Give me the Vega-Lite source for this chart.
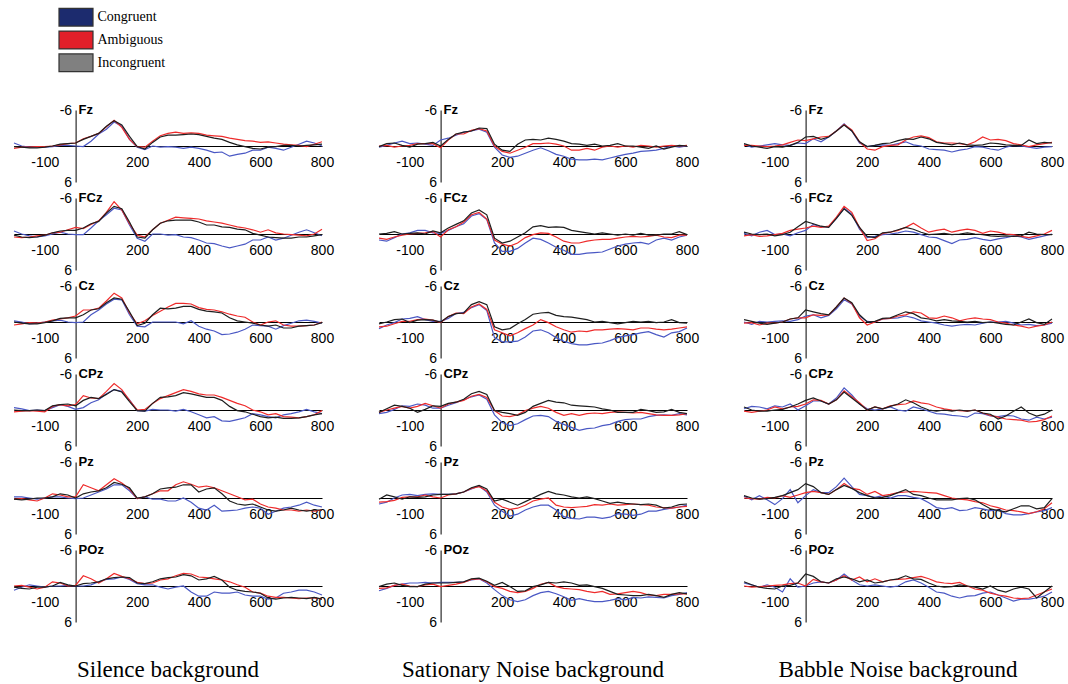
{
"$schema": "https://vega.github.io/schema/vega-lite/v6.json",
"background": "white",
"padding": {"left": 11, "top": 7, "right": 5, "bottom": 0},
"config": {"view": {"stroke": null}, "font": "Liberation Sans"},
"datasets": {"erp": [
{"b":"S","e":"Fz","t":-200,"C":-0.5,"A":0.4,"I":0.1},
{"b":"S","e":"Fz","t":-175,"C":0,"A":0.2,"I":0.2},
{"b":"S","e":"Fz","t":-150,"C":0.2,"A":0.2,"I":0.3},
{"b":"S","e":"Fz","t":-125,"C":0.2,"A":0.1,"I":0.3},
{"b":"S","e":"Fz","t":-100,"C":0.2,"A":0.1,"I":0.2},
{"b":"S","e":"Fz","t":-75,"C":0.1,"A":0,"I":0},
{"b":"S","e":"Fz","t":-50,"C":-0.1,"A":-0.2,"I":-0.3},
{"b":"S","e":"Fz","t":-25,"C":-0.1,"A":-0.4,"I":-0.4},
{"b":"S","e":"Fz","t":0,"C":0,"A":-0.5,"I":-0.5},
{"b":"S","e":"Fz","t":25,"C":0.1,"A":-1.2,"I":-1.1},
{"b":"S","e":"Fz","t":50,"C":-0.8,"A":-1.6,"I":-1.6},
{"b":"S","e":"Fz","t":75,"C":-2,"A":-2.1,"I":-2.1},
{"b":"S","e":"Fz","t":100,"C":-2.8,"A":-3.2,"I":-3.3},
{"b":"S","e":"Fz","t":125,"C":-4,"A":-4.3,"I":-4.2},
{"b":"S","e":"Fz","t":150,"C":-3.3,"A":-3.1,"I":-3.5},
{"b":"S","e":"Fz","t":175,"C":-1.1,"A":-1.1,"I":-1.6},
{"b":"S","e":"Fz","t":200,"C":0.2,"A":0.1,"I":0.1},
{"b":"S","e":"Fz","t":225,"C":0.6,"A":0.2,"I":0.5},
{"b":"S","e":"Fz","t":250,"C":0,"A":-0.8,"I":-0.6},
{"b":"S","e":"Fz","t":275,"C":0.2,"A":-1.7,"I":-1.5},
{"b":"S","e":"Fz","t":300,"C":0.1,"A":-2.1,"I":-1.8},
{"b":"S","e":"Fz","t":325,"C":0.2,"A":-2.3,"I":-1.8},
{"b":"S","e":"Fz","t":350,"C":0.4,"A":-2.1,"I":-1.9},
{"b":"S","e":"Fz","t":375,"C":0.2,"A":-2.2,"I":-2},
{"b":"S","e":"Fz","t":400,"C":0.4,"A":-2.1,"I":-1.9},
{"b":"S","e":"Fz","t":425,"C":0.7,"A":-1.8,"I":-1.6},
{"b":"S","e":"Fz","t":450,"C":1.1,"A":-1.7,"I":-1.3},
{"b":"S","e":"Fz","t":475,"C":1,"A":-1.6,"I":-1.1},
{"b":"S","e":"Fz","t":500,"C":1.7,"A":-1.3,"I":-0.6},
{"b":"S","e":"Fz","t":525,"C":1.4,"A":-1.1,"I":-0.2},
{"b":"S","e":"Fz","t":550,"C":1.2,"A":-0.9,"I":0.1},
{"b":"S","e":"Fz","t":575,"C":0.7,"A":-0.8,"I":0.4},
{"b":"S","e":"Fz","t":600,"C":0.7,"A":-0.6,"I":0.5},
{"b":"S","e":"Fz","t":625,"C":0.2,"A":-0.7,"I":0.2},
{"b":"S","e":"Fz","t":650,"C":0.4,"A":-0.5,"I":0.1},
{"b":"S","e":"Fz","t":675,"C":0.7,"A":-0.3,"I":-0.1},
{"b":"S","e":"Fz","t":700,"C":0.2,"A":-0.2,"I":-0.1},
{"b":"S","e":"Fz","t":725,"C":-0.3,"A":-0.1,"I":0},
{"b":"S","e":"Fz","t":750,"C":-0.8,"A":0.1,"I":-0.1},
{"b":"S","e":"Fz","t":775,"C":-0.5,"A":-0.3,"I":-0.2},
{"b":"S","e":"Fz","t":800,"C":0,"A":-0.7,"I":-0.3},
{"b":"S","e":"FCz","t":-200,"C":-0.5,"A":0.5,"I":0.2},
{"b":"S","e":"FCz","t":-175,"C":0,"A":0.6,"I":0.5},
{"b":"S","e":"FCz","t":-150,"C":0.3,"A":0.5,"I":0.6},
{"b":"S","e":"FCz","t":-125,"C":0.5,"A":0.3,"I":0.5},
{"b":"S","e":"FCz","t":-100,"C":0.3,"A":0.2,"I":0.2},
{"b":"S","e":"FCz","t":-75,"C":0,"A":-0.2,"I":-0.2},
{"b":"S","e":"FCz","t":-50,"C":-0.3,"A":-0.3,"I":-0.5},
{"b":"S","e":"FCz","t":-25,"C":0,"A":-0.7,"I":-0.6},
{"b":"S","e":"FCz","t":0,"C":0.1,"A":-1.1,"I":-0.6},
{"b":"S","e":"FCz","t":25,"C":0.1,"A":-0.9,"I":-1},
{"b":"S","e":"FCz","t":50,"C":-1,"A":-1.6,"I":-1.7},
{"b":"S","e":"FCz","t":75,"C":-2.2,"A":-2.2,"I":-2.1},
{"b":"S","e":"FCz","t":100,"C":-3.2,"A":-3.6,"I":-3.5},
{"b":"S","e":"FCz","t":125,"C":-4.3,"A":-5.4,"I":-4.6},
{"b":"S","e":"FCz","t":150,"C":-4,"A":-4,"I":-4.2},
{"b":"S","e":"FCz","t":175,"C":-1.5,"A":-1.7,"I":-2},
{"b":"S","e":"FCz","t":200,"C":0.7,"A":0.2,"I":0.5},
{"b":"S","e":"FCz","t":225,"C":1.2,"A":0.5,"I":0.7},
{"b":"S","e":"FCz","t":250,"C":0,"A":-0.7,"I":-0.7},
{"b":"S","e":"FCz","t":275,"C":0,"A":-1.8,"I":-1.8},
{"b":"S","e":"FCz","t":300,"C":0.2,"A":-2.3,"I":-2.2},
{"b":"S","e":"FCz","t":325,"C":0.1,"A":-2.8,"I":-2.3},
{"b":"S","e":"FCz","t":350,"C":0.5,"A":-2.7,"I":-2.3},
{"b":"S","e":"FCz","t":375,"C":0.6,"A":-2.6,"I":-2.3},
{"b":"S","e":"FCz","t":400,"C":1,"A":-2.5,"I":-2},
{"b":"S","e":"FCz","t":425,"C":1.5,"A":-2.2,"I":-1.5},
{"b":"S","e":"FCz","t":450,"C":1.6,"A":-2,"I":-1.5},
{"b":"S","e":"FCz","t":475,"C":2,"A":-1.8,"I":-1.2},
{"b":"S","e":"FCz","t":500,"C":2.3,"A":-1.5,"I":-1.1},
{"b":"S","e":"FCz","t":525,"C":2,"A":-1.2,"I":-0.8},
{"b":"S","e":"FCz","t":550,"C":1.7,"A":-1,"I":-0.7},
{"b":"S","e":"FCz","t":575,"C":1,"A":-0.7,"I":-0.1},
{"b":"S","e":"FCz","t":600,"C":1,"A":-0.3,"I":0.2},
{"b":"S","e":"FCz","t":625,"C":0.5,"A":-0.7,"I":0.5},
{"b":"S","e":"FCz","t":650,"C":1,"A":-0.2,"I":0.6},
{"b":"S","e":"FCz","t":675,"C":0.7,"A":0,"I":0.7},
{"b":"S","e":"FCz","t":700,"C":0.2,"A":0.1,"I":0.7},
{"b":"S","e":"FCz","t":725,"C":-0.3,"A":0.2,"I":0.5},
{"b":"S","e":"FCz","t":750,"C":-0.7,"A":0.3,"I":0.5},
{"b":"S","e":"FCz","t":775,"C":-0.2,"A":0,"I":0.3},
{"b":"S","e":"FCz","t":800,"C":0.3,"A":-0.8,"I":0.1},
{"b":"S","e":"Cz","t":-200,"C":-0.2,"A":0.5,"I":0},
{"b":"S","e":"Cz","t":-175,"C":0,"A":0.3,"I":0.2},
{"b":"S","e":"Cz","t":-150,"C":0.3,"A":0.1,"I":0.3},
{"b":"S","e":"Cz","t":-125,"C":0.2,"A":0.2,"I":0.3},
{"b":"S","e":"Cz","t":-100,"C":0,"A":0,"I":0.1},
{"b":"S","e":"Cz","t":-75,"C":-0.2,"A":-0.3,"I":-0.2},
{"b":"S","e":"Cz","t":-50,"C":-0.3,"A":-0.5,"I":-0.6},
{"b":"S","e":"Cz","t":-25,"C":0,"A":-0.7,"I":-0.7},
{"b":"S","e":"Cz","t":0,"C":0.1,"A":-1,"I":-0.7},
{"b":"S","e":"Cz","t":25,"C":0,"A":-2,"I":-1.2},
{"b":"S","e":"Cz","t":50,"C":-1.2,"A":-2,"I":-2},
{"b":"S","e":"Cz","t":75,"C":-2,"A":-2.3,"I":-2.2},
{"b":"S","e":"Cz","t":100,"C":-3,"A":-3.5,"I":-3.2},
{"b":"S","e":"Cz","t":125,"C":-3.8,"A":-4.8,"I":-4},
{"b":"S","e":"Cz","t":150,"C":-3.7,"A":-4,"I":-3.8},
{"b":"S","e":"Cz","t":175,"C":-1.2,"A":-1.5,"I":-1.7},
{"b":"S","e":"Cz","t":200,"C":0.7,"A":0.3,"I":0.6},
{"b":"S","e":"Cz","t":225,"C":0.8,"A":-0.2,"I":0.2},
{"b":"S","e":"Cz","t":250,"C":0,"A":-1.1,"I":-1.2},
{"b":"S","e":"Cz","t":275,"C":0,"A":-1.8,"I":-2.3},
{"b":"S","e":"Cz","t":300,"C":0,"A":-2.5,"I":-2.2},
{"b":"S","e":"Cz","t":325,"C":0,"A":-3.1,"I":-2.3},
{"b":"S","e":"Cz","t":350,"C":0.3,"A":-3.1,"I":-2.6},
{"b":"S","e":"Cz","t":375,"C":-0.2,"A":-3,"I":-2.6},
{"b":"S","e":"Cz","t":400,"C":0.7,"A":-2.4,"I":-2.1},
{"b":"S","e":"Cz","t":425,"C":1.2,"A":-2.1,"I":-1.8},
{"b":"S","e":"Cz","t":450,"C":1.5,"A":-2,"I":-1.7},
{"b":"S","e":"Cz","t":475,"C":2.1,"A":-1.7,"I":-1.5},
{"b":"S","e":"Cz","t":500,"C":2,"A":-1.3,"I":-0.7},
{"b":"S","e":"Cz","t":525,"C":1.7,"A":-1,"I":-0.2},
{"b":"S","e":"Cz","t":550,"C":1.2,"A":-0.8,"I":0},
{"b":"S","e":"Cz","t":575,"C":0.5,"A":0,"I":0.2},
{"b":"S","e":"Cz","t":600,"C":0.6,"A":0.5,"I":0.5},
{"b":"S","e":"Cz","t":625,"C":0.7,"A":0,"I":0.7},
{"b":"S","e":"Cz","t":650,"C":1.2,"A":-0.2,"I":0.5},
{"b":"S","e":"Cz","t":675,"C":0.6,"A":0.5,"I":1},
{"b":"S","e":"Cz","t":700,"C":0.2,"A":0.7,"I":1},
{"b":"S","e":"Cz","t":725,"C":-0.2,"A":0.7,"I":0.7},
{"b":"S","e":"Cz","t":750,"C":-0.3,"A":0.6,"I":0.6},
{"b":"S","e":"Cz","t":775,"C":-0.1,"A":0.5,"I":0.5},
{"b":"S","e":"Cz","t":800,"C":0.2,"A":0,"I":0.1},
{"b":"S","e":"CPz","t":-200,"C":-0.4,"A":0.3,"I":0},
{"b":"S","e":"CPz","t":-175,"C":-0.2,"A":0.2,"I":0.1},
{"b":"S","e":"CPz","t":-150,"C":0.1,"A":0.1,"I":0.1},
{"b":"S","e":"CPz","t":-125,"C":0,"A":0.2,"I":0},
{"b":"S","e":"CPz","t":-100,"C":0.1,"A":0.3,"I":0.1},
{"b":"S","e":"CPz","t":-75,"C":-0.4,"A":-0.6,"I":-0.7},
{"b":"S","e":"CPz","t":-50,"C":-0.9,"A":-0.9,"I":-0.9},
{"b":"S","e":"CPz","t":-25,"C":-0.6,"A":-0.7,"I":-1},
{"b":"S","e":"CPz","t":0,"C":-0.1,"A":-0.9,"I":-0.7},
{"b":"S","e":"CPz","t":25,"C":-0.4,"A":-2.4,"I":-1.6},
{"b":"S","e":"CPz","t":50,"C":-1.2,"A":-2,"I":-2.1},
{"b":"S","e":"CPz","t":75,"C":-1.7,"A":-1.9,"I":-1.9},
{"b":"S","e":"CPz","t":100,"C":-2.7,"A":-3.1,"I":-2.6},
{"b":"S","e":"CPz","t":125,"C":-3.4,"A":-4.4,"I":-3.4},
{"b":"S","e":"CPz","t":150,"C":-3.1,"A":-3.4,"I":-3},
{"b":"S","e":"CPz","t":175,"C":-1.7,"A":-1.6,"I":-1.4},
{"b":"S","e":"CPz","t":200,"C":0.1,"A":0,"I":0.1},
{"b":"S","e":"CPz","t":225,"C":0.2,"A":-0.1,"I":0.2},
{"b":"S","e":"CPz","t":250,"C":-0.1,"A":-1.1,"I":-1.1},
{"b":"S","e":"CPz","t":275,"C":0,"A":-1.9,"I":-2.1},
{"b":"S","e":"CPz","t":300,"C":0,"A":-2.4,"I":-2.2},
{"b":"S","e":"CPz","t":325,"C":0.2,"A":-2.9,"I":-2.4},
{"b":"S","e":"CPz","t":350,"C":-0.1,"A":-3.4,"I":-2.9},
{"b":"S","e":"CPz","t":375,"C":0.3,"A":-3.1,"I":-2.7},
{"b":"S","e":"CPz","t":400,"C":0.8,"A":-2.7,"I":-2.4},
{"b":"S","e":"CPz","t":425,"C":1.3,"A":-2.5,"I":-2.1},
{"b":"S","e":"CPz","t":450,"C":1.1,"A":-2.5,"I":-2.1},
{"b":"S","e":"CPz","t":475,"C":1.8,"A":-2.1,"I":-1.6},
{"b":"S","e":"CPz","t":500,"C":1.9,"A":-1.6,"I":-0.6},
{"b":"S","e":"CPz","t":525,"C":1.6,"A":-1.1,"I":0.1},
{"b":"S","e":"CPz","t":550,"C":1.3,"A":-0.7,"I":0.3},
{"b":"S","e":"CPz","t":575,"C":0.6,"A":0,"I":0.7},
{"b":"S","e":"CPz","t":600,"C":0.8,"A":0.3,"I":1.1},
{"b":"S","e":"CPz","t":625,"C":1.1,"A":0.8,"I":1.3},
{"b":"S","e":"CPz","t":650,"C":1.3,"A":0.6,"I":1.2},
{"b":"S","e":"CPz","t":675,"C":0.8,"A":1.1,"I":1.4},
{"b":"S","e":"CPz","t":700,"C":0.6,"A":1.2,"I":1.4},
{"b":"S","e":"CPz","t":725,"C":0.3,"A":1.3,"I":1.3},
{"b":"S","e":"CPz","t":750,"C":-0.1,"A":1.1,"I":1.1},
{"b":"S","e":"CPz","t":775,"C":0.3,"A":0.8,"I":0.8},
{"b":"S","e":"CPz","t":800,"C":0.6,"A":0.1,"I":0.6},
{"b":"S","e":"Pz","t":-200,"C":-0.2,"A":0.2,"I":0.2},
{"b":"S","e":"Pz","t":-175,"C":-0.2,"A":0.1,"I":0.3},
{"b":"S","e":"Pz","t":-150,"C":0,"A":0.3,"I":0.2},
{"b":"S","e":"Pz","t":-125,"C":0.2,"A":0.5,"I":0},
{"b":"S","e":"Pz","t":-100,"C":0,"A":0,"I":0},
{"b":"S","e":"Pz","t":-75,"C":-0.2,"A":-0.7,"I":-0.2},
{"b":"S","e":"Pz","t":-50,"C":-0.2,"A":-0.5,"I":-0.7},
{"b":"S","e":"Pz","t":-25,"C":0,"A":-0.2,"I":-0.5},
{"b":"S","e":"Pz","t":0,"C":0.1,"A":-0.2,"I":0},
{"b":"S","e":"Pz","t":25,"C":0,"A":-2.2,"I":-0.7},
{"b":"S","e":"Pz","t":50,"C":-0.5,"A":-1.7,"I":-1},
{"b":"S","e":"Pz","t":75,"C":-1,"A":-1.2,"I":-1.2},
{"b":"S","e":"Pz","t":100,"C":-1.5,"A":-2.2,"I":-1.7},
{"b":"S","e":"Pz","t":125,"C":-2.2,"A":-3.2,"I":-2.6},
{"b":"S","e":"Pz","t":150,"C":-2.2,"A":-2.5,"I":-2.3},
{"b":"S","e":"Pz","t":175,"C":-1.2,"A":-1.5,"I":-1.7},
{"b":"S","e":"Pz","t":200,"C":0.1,"A":0.1,"I":0},
{"b":"S","e":"Pz","t":225,"C":-0.2,"A":-0.2,"I":-0.2},
{"b":"S","e":"Pz","t":250,"C":0.2,"A":-0.7,"I":-0.7},
{"b":"S","e":"Pz","t":275,"C":0.2,"A":-1.2,"I":-1.5},
{"b":"S","e":"Pz","t":300,"C":0.5,"A":-1.2,"I":-1.7},
{"b":"S","e":"Pz","t":325,"C":0.5,"A":-2.2,"I":-1.8},
{"b":"S","e":"Pz","t":350,"C":0,"A":-2.7,"I":-2.2},
{"b":"S","e":"Pz","t":375,"C":0.7,"A":-2.3,"I":-2.2},
{"b":"S","e":"Pz","t":400,"C":1.7,"A":-1.8,"I":-1},
{"b":"S","e":"Pz","t":425,"C":2,"A":-2,"I":-1.5},
{"b":"S","e":"Pz","t":450,"C":1.2,"A":-1.7,"I":-1.7},
{"b":"S","e":"Pz","t":475,"C":2.2,"A":-1.2,"I":-0.7},
{"b":"S","e":"Pz","t":500,"C":2.1,"A":-0.7,"I":0.5},
{"b":"S","e":"Pz","t":525,"C":2,"A":-0.2,"I":1},
{"b":"S","e":"Pz","t":550,"C":1.7,"A":0.3,"I":1.2},
{"b":"S","e":"Pz","t":575,"C":1.5,"A":0.2,"I":1},
{"b":"S","e":"Pz","t":600,"C":1.7,"A":1,"I":1.5},
{"b":"S","e":"Pz","t":625,"C":2.7,"A":1.5,"I":2},
{"b":"S","e":"Pz","t":650,"C":2.2,"A":1.7,"I":2.2},
{"b":"S","e":"Pz","t":675,"C":1.7,"A":2,"I":2},
{"b":"S","e":"Pz","t":700,"C":1.5,"A":2,"I":1.7},
{"b":"S","e":"Pz","t":725,"C":1.2,"A":2.2,"I":2},
{"b":"S","e":"Pz","t":750,"C":0.7,"A":2,"I":2.2},
{"b":"S","e":"Pz","t":775,"C":1.2,"A":2.2,"I":2},
{"b":"S","e":"Pz","t":800,"C":1.5,"A":2,"I":2},
{"b":"S","e":"POz","t":-200,"C":0.7,"A":0,"I":0.2},
{"b":"S","e":"POz","t":-175,"C":0.2,"A":-0.1,"I":0.4},
{"b":"S","e":"POz","t":-150,"C":-0.2,"A":0.2,"I":0.5},
{"b":"S","e":"POz","t":-125,"C":0,"A":0.5,"I":0.2},
{"b":"S","e":"POz","t":-100,"C":0.2,"A":0.2,"I":0.2},
{"b":"S","e":"POz","t":-75,"C":0,"A":-0.7,"I":0},
{"b":"S","e":"POz","t":-50,"C":0,"A":-0.5,"I":-0.6},
{"b":"S","e":"POz","t":-25,"C":-0.1,"A":0,"I":-0.2},
{"b":"S","e":"POz","t":0,"C":0,"A":-0.1,"I":0},
{"b":"S","e":"POz","t":25,"C":0,"A":-1.7,"I":-0.4},
{"b":"S","e":"POz","t":50,"C":-0.2,"A":-1.2,"I":-0.5},
{"b":"S","e":"POz","t":75,"C":-0.7,"A":-0.5,"I":-0.7},
{"b":"S","e":"POz","t":100,"C":-1.1,"A":-1.2,"I":-1.2},
{"b":"S","e":"POz","t":125,"C":-1.2,"A":-2.1,"I":-1.4},
{"b":"S","e":"POz","t":150,"C":-1.5,"A":-1.6,"I":-1.5},
{"b":"S","e":"POz","t":175,"C":-1.1,"A":-1.2,"I":-1.4},
{"b":"S","e":"POz","t":200,"C":-0.4,"A":-0.6,"I":-0.5},
{"b":"S","e":"POz","t":225,"C":-0.2,"A":-0.4,"I":-0.4},
{"b":"S","e":"POz","t":250,"C":-0.2,"A":-0.5,"I":-0.7},
{"b":"S","e":"POz","t":275,"C":0.2,"A":-1,"I":-1.2},
{"b":"S","e":"POz","t":300,"C":0.5,"A":-1.2,"I":-1.4},
{"b":"S","e":"POz","t":325,"C":0.2,"A":-1.7,"I":-1.5},
{"b":"S","e":"POz","t":350,"C":0,"A":-2.1,"I":-1.9},
{"b":"S","e":"POz","t":375,"C":1,"A":-2,"I":-1.7},
{"b":"S","e":"POz","t":400,"C":1.7,"A":-1.5,"I":-1},
{"b":"S","e":"POz","t":425,"C":1.7,"A":-1.4,"I":-1.2},
{"b":"S","e":"POz","t":450,"C":1,"A":-1.2,"I":-1.6},
{"b":"S","e":"POz","t":475,"C":1.2,"A":-1,"I":-1},
{"b":"S","e":"POz","t":500,"C":1.2,"A":-0.7,"I":0.2},
{"b":"S","e":"POz","t":525,"C":1,"A":-0.2,"I":0.7},
{"b":"S","e":"POz","t":550,"C":1.5,"A":0.2,"I":0.9},
{"b":"S","e":"POz","t":575,"C":1.7,"A":1,"I":1},
{"b":"S","e":"POz","t":600,"C":1.7,"A":1.2,"I":1.2},
{"b":"S","e":"POz","t":625,"C":2.2,"A":1.7,"I":2},
{"b":"S","e":"POz","t":650,"C":2,"A":1.9,"I":2.2},
{"b":"S","e":"POz","t":675,"C":1.2,"A":1.9,"I":2},
{"b":"S","e":"POz","t":700,"C":1,"A":2,"I":1.9},
{"b":"S","e":"POz","t":725,"C":0.7,"A":2.1,"I":2},
{"b":"S","e":"POz","t":750,"C":0.7,"A":2,"I":2.1},
{"b":"S","e":"POz","t":775,"C":1,"A":2,"I":1.9},
{"b":"S","e":"POz","t":800,"C":1.5,"A":2.2,"I":2.2},
{"b":"N","e":"Fz","t":-200,"C":0.2,"A":0,"I":0.1},
{"b":"N","e":"Fz","t":-175,"C":-0.1,"A":-0.1,"I":-0.4},
{"b":"N","e":"Fz","t":-150,"C":-0.5,"A":0.2,"I":-0.5},
{"b":"N","e":"Fz","t":-125,"C":-0.8,"A":0,"I":-0.1},
{"b":"N","e":"Fz","t":-100,"C":-0.4,"A":-0.1,"I":0.2},
{"b":"N","e":"Fz","t":-75,"C":-0.5,"A":-0.4,"I":-0.3},
{"b":"N","e":"Fz","t":-50,"C":-0.3,"A":-0.4,"I":-0.4},
{"b":"N","e":"Fz","t":-25,"C":-0.1,"A":-0.4,"I":-0.6},
{"b":"N","e":"Fz","t":0,"C":-1,"A":0.3,"I":0},
{"b":"N","e":"Fz","t":25,"C":-1.3,"A":-1,"I":-1.1},
{"b":"N","e":"Fz","t":50,"C":-1.8,"A":-2,"I":-2},
{"b":"N","e":"Fz","t":75,"C":-2.3,"A":-2,"I":-2.3},
{"b":"N","e":"Fz","t":100,"C":-2.5,"A":-2.6,"I":-2.5},
{"b":"N","e":"Fz","t":125,"C":-2.8,"A":-2.9,"I":-3},
{"b":"N","e":"Fz","t":150,"C":-2.3,"A":-2.5,"I":-2.9},
{"b":"N","e":"Fz","t":175,"C":0.2,"A":0,"I":-0.3},
{"b":"N","e":"Fz","t":200,"C":1.5,"A":0.9,"I":0.7},
{"b":"N","e":"Fz","t":225,"C":1.9,"A":1.2,"I":0.9},
{"b":"N","e":"Fz","t":250,"C":1.7,"A":0.7,"I":-0.3},
{"b":"N","e":"Fz","t":275,"C":1.2,"A":0.2,"I":-1},
{"b":"N","e":"Fz","t":300,"C":0.7,"A":-0.4,"I":-1.1},
{"b":"N","e":"Fz","t":325,"C":0.3,"A":-0.4,"I":-1},
{"b":"N","e":"Fz","t":350,"C":0.8,"A":-0.5,"I":-1.3},
{"b":"N","e":"Fz","t":375,"C":1.4,"A":-0.3,"I":-1.1},
{"b":"N","e":"Fz","t":400,"C":1.7,"A":0,"I":-0.8},
{"b":"N","e":"Fz","t":425,"C":2.2,"A":0.7,"I":-0.4},
{"b":"N","e":"Fz","t":450,"C":2.3,"A":0.7,"I":-0.3},
{"b":"N","e":"Fz","t":475,"C":2.3,"A":0.4,"I":-0.1},
{"b":"N","e":"Fz","t":500,"C":2.2,"A":0.7,"I":-0.3},
{"b":"N","e":"Fz","t":525,"C":2.3,"A":0.2,"I":0},
{"b":"N","e":"Fz","t":550,"C":2,"A":0,"I":-0.1},
{"b":"N","e":"Fz","t":575,"C":1.7,"A":0.2,"I":-0.4},
{"b":"N","e":"Fz","t":600,"C":1.4,"A":0,"I":0},
{"b":"N","e":"Fz","t":625,"C":1.2,"A":0.2,"I":0},
{"b":"N","e":"Fz","t":650,"C":0.9,"A":-0.1,"I":0.2},
{"b":"N","e":"Fz","t":675,"C":0.8,"A":0,"I":0.4},
{"b":"N","e":"Fz","t":700,"C":0.7,"A":0.2,"I":0},
{"b":"N","e":"Fz","t":725,"C":0.4,"A":0,"I":0.5},
{"b":"N","e":"Fz","t":750,"C":0,"A":-0.1,"I":0.2},
{"b":"N","e":"Fz","t":775,"C":0.2,"A":0,"I":-0.1},
{"b":"N","e":"Fz","t":800,"C":0,"A":-0.1,"I":0},
{"b":"N","e":"FCz","t":-200,"C":1,"A":0.7,"I":0},
{"b":"N","e":"FCz","t":-175,"C":1.2,"A":0.9,"I":-0.1},
{"b":"N","e":"FCz","t":-150,"C":0.6,"A":0.5,"I":-0.4},
{"b":"N","e":"FCz","t":-125,"C":0,"A":0.2,"I":0},
{"b":"N","e":"FCz","t":-100,"C":-0.2,"A":0,"I":-0.1},
{"b":"N","e":"FCz","t":-75,"C":-0.6,"A":-0.1,"I":-0.2},
{"b":"N","e":"FCz","t":-50,"C":-0.6,"A":-0.2,"I":0},
{"b":"N","e":"FCz","t":-25,"C":-0.2,"A":-0.4,"I":-0.5},
{"b":"N","e":"FCz","t":0,"C":-0.1,"A":0.5,"I":-0.2},
{"b":"N","e":"FCz","t":25,"C":-0.6,"A":-0.7,"I":-1},
{"b":"N","e":"FCz","t":50,"C":-1.2,"A":-1.2,"I":-1.6},
{"b":"N","e":"FCz","t":75,"C":-1.7,"A":-2,"I":-2.2},
{"b":"N","e":"FCz","t":100,"C":-3,"A":-3.2,"I":-3.5},
{"b":"N","e":"FCz","t":125,"C":-3.4,"A":-3.6,"I":-4},
{"b":"N","e":"FCz","t":150,"C":-2.4,"A":-2.5,"I":-3.2},
{"b":"N","e":"FCz","t":175,"C":1.5,"A":1,"I":0.7},
{"b":"N","e":"FCz","t":200,"C":2.9,"A":1.7,"I":1.5},
{"b":"N","e":"FCz","t":225,"C":2.9,"A":2,"I":1.2},
{"b":"N","e":"FCz","t":250,"C":2.4,"A":1.5,"I":0.5},
{"b":"N","e":"FCz","t":275,"C":1.5,"A":0.6,"I":-0.2},
{"b":"N","e":"FCz","t":300,"C":0.7,"A":0.1,"I":-1.2},
{"b":"N","e":"FCz","t":325,"C":0.9,"A":-0.2,"I":-1.4},
{"b":"N","e":"FCz","t":350,"C":1.5,"A":-0.1,"I":-1.1},
{"b":"N","e":"FCz","t":375,"C":2.2,"A":0.5,"I":-1.2},
{"b":"N","e":"FCz","t":400,"C":2.7,"A":1.2,"I":-1.1},
{"b":"N","e":"FCz","t":425,"C":3.4,"A":1.5,"I":-0.6},
{"b":"N","e":"FCz","t":450,"C":3.4,"A":1.5,"I":-0.4},
{"b":"N","e":"FCz","t":475,"C":3.2,"A":1.2,"I":-0.2},
{"b":"N","e":"FCz","t":500,"C":3.1,"A":1,"I":0},
{"b":"N","e":"FCz","t":525,"C":3,"A":0.9,"I":-0.2},
{"b":"N","e":"FCz","t":550,"C":2.5,"A":0.9,"I":0},
{"b":"N","e":"FCz","t":575,"C":2,"A":0.7,"I":0.2},
{"b":"N","e":"FCz","t":600,"C":1.7,"A":0.5,"I":0},
{"b":"N","e":"FCz","t":625,"C":1.5,"A":0.4,"I":0.2},
{"b":"N","e":"FCz","t":650,"C":1.4,"A":0.5,"I":-0.1},
{"b":"N","e":"FCz","t":675,"C":1.7,"A":0.4,"I":0.2},
{"b":"N","e":"FCz","t":700,"C":1,"A":0.2,"I":0.2},
{"b":"N","e":"FCz","t":725,"C":0.7,"A":0.5,"I":0},
{"b":"N","e":"FCz","t":750,"C":1,"A":0.6,"I":0},
{"b":"N","e":"FCz","t":775,"C":0.5,"A":0.2,"I":-0.4},
{"b":"N","e":"FCz","t":800,"C":0.2,"A":0.2,"I":0.1},
{"b":"N","e":"Cz","t":-200,"C":1.1,"A":0.8,"I":0.3},
{"b":"N","e":"Cz","t":-175,"C":0.5,"A":0.7,"I":0},
{"b":"N","e":"Cz","t":-150,"C":0.1,"A":0.3,"I":-0.4},
{"b":"N","e":"Cz","t":-125,"C":-0.5,"A":-0.1,"I":-0.5},
{"b":"N","e":"Cz","t":-100,"C":-0.6,"A":-0.1,"I":0.1},
{"b":"N","e":"Cz","t":-75,"C":-0.9,"A":-0.4,"I":-0.3},
{"b":"N","e":"Cz","t":-50,"C":-0.4,"A":-0.5,"I":-0.4},
{"b":"N","e":"Cz","t":-25,"C":-0.1,"A":-0.3,"I":-0.3},
{"b":"N","e":"Cz","t":0,"C":-0.1,"A":0.1,"I":0},
{"b":"N","e":"Cz","t":25,"C":-0.6,"A":-0.9,"I":-0.9},
{"b":"N","e":"Cz","t":50,"C":-1.4,"A":-1.5,"I":-1.4},
{"b":"N","e":"Cz","t":75,"C":-1.6,"A":-1.4,"I":-1.5},
{"b":"N","e":"Cz","t":100,"C":-2.4,"A":-2.5,"I":-2.9},
{"b":"N","e":"Cz","t":125,"C":-2.9,"A":-3,"I":-3.4},
{"b":"N","e":"Cz","t":150,"C":-1.9,"A":-2.1,"I":-2.9},
{"b":"N","e":"Cz","t":175,"C":2.6,"A":1.3,"I":0.8},
{"b":"N","e":"Cz","t":200,"C":3.3,"A":1.8,"I":1.3},
{"b":"N","e":"Cz","t":225,"C":3.3,"A":2.3,"I":1.1},
{"b":"N","e":"Cz","t":250,"C":3.2,"A":1.8,"I":0.3},
{"b":"N","e":"Cz","t":275,"C":2.5,"A":1.1,"I":-0.4},
{"b":"N","e":"Cz","t":300,"C":1.5,"A":0.5,"I":-1.3},
{"b":"N","e":"Cz","t":325,"C":1.3,"A":-0.4,"I":-1.5},
{"b":"N","e":"Cz","t":350,"C":1.8,"A":0.1,"I":-1.6},
{"b":"N","e":"Cz","t":375,"C":2.6,"A":0.8,"I":-1.1},
{"b":"N","e":"Cz","t":400,"C":3.2,"A":1.3,"I":-0.9},
{"b":"N","e":"Cz","t":425,"C":3.6,"A":1.7,"I":-0.8},
{"b":"N","e":"Cz","t":450,"C":3.8,"A":1.5,"I":-0.6},
{"b":"N","e":"Cz","t":475,"C":3.8,"A":1.6,"I":-0.4},
{"b":"N","e":"Cz","t":500,"C":3.6,"A":1.3,"I":0},
{"b":"N","e":"Cz","t":525,"C":3.5,"A":1.3,"I":-0.1},
{"b":"N","e":"Cz","t":550,"C":3.1,"A":1.2,"I":0.1},
{"b":"N","e":"Cz","t":575,"C":2.6,"A":1.1,"I":0.3},
{"b":"N","e":"Cz","t":600,"C":2.3,"A":1.2,"I":0.1},
{"b":"N","e":"Cz","t":625,"C":2.1,"A":1.3,"I":-0.1},
{"b":"N","e":"Cz","t":650,"C":1.8,"A":1,"I":0},
{"b":"N","e":"Cz","t":675,"C":1.6,"A":1,"I":-0.1},
{"b":"N","e":"Cz","t":700,"C":2.1,"A":1.2,"I":0.1},
{"b":"N","e":"Cz","t":725,"C":2.5,"A":1.3,"I":0},
{"b":"N","e":"Cz","t":750,"C":1.8,"A":1.2,"I":-0.4},
{"b":"N","e":"Cz","t":775,"C":1.6,"A":1,"I":0.1},
{"b":"N","e":"Cz","t":800,"C":1,"A":0.8,"I":0.2},
{"b":"N","e":"CPz","t":-200,"C":0.6,"A":0.4,"I":0.4},
{"b":"N","e":"CPz","t":-175,"C":0.4,"A":0,"I":-0.2},
{"b":"N","e":"CPz","t":-150,"C":-0.1,"A":-0.3,"I":-0.8},
{"b":"N","e":"CPz","t":-125,"C":-0.7,"A":-0.6,"I":-0.6},
{"b":"N","e":"CPz","t":-100,"C":-0.6,"A":-0.3,"I":-0.3},
{"b":"N","e":"CPz","t":-75,"C":-1,"A":-0.6,"I":0.4},
{"b":"N","e":"CPz","t":-50,"C":-0.8,"A":-1.1,"I":-0.1},
{"b":"N","e":"CPz","t":-25,"C":-0.3,"A":-0.7,"I":-0.7},
{"b":"N","e":"CPz","t":0,"C":-0.3,"A":-0.3,"I":-0.6},
{"b":"N","e":"CPz","t":25,"C":-0.8,"A":-1,"I":-1.1},
{"b":"N","e":"CPz","t":50,"C":-1.2,"A":-1.3,"I":-1.3},
{"b":"N","e":"CPz","t":75,"C":-1.7,"A":-1.6,"I":-1.8},
{"b":"N","e":"CPz","t":100,"C":-2.2,"A":-2.3,"I":-2.7},
{"b":"N","e":"CPz","t":125,"C":-2.5,"A":-2.6,"I":-3.1},
{"b":"N","e":"CPz","t":150,"C":-1.8,"A":-2.1,"I":-2.6},
{"b":"N","e":"CPz","t":175,"C":0.8,"A":0.1,"I":0.1},
{"b":"N","e":"CPz","t":200,"C":2.1,"A":1,"I":0.4},
{"b":"N","e":"CPz","t":225,"C":2.6,"A":1.1,"I":0.6},
{"b":"N","e":"CPz","t":250,"C":2.3,"A":0.8,"I":0.9},
{"b":"N","e":"CPz","t":275,"C":1.6,"A":0.1,"I":0.4},
{"b":"N","e":"CPz","t":300,"C":1,"A":-0.3,"I":-0.6},
{"b":"N","e":"CPz","t":325,"C":0.9,"A":-0.6,"I":-1.1},
{"b":"N","e":"CPz","t":350,"C":1.1,"A":-0.3,"I":-1.6},
{"b":"N","e":"CPz","t":375,"C":1.9,"A":0.4,"I":-1.3},
{"b":"N","e":"CPz","t":400,"C":2.4,"A":0.9,"I":-1.2},
{"b":"N","e":"CPz","t":425,"C":2.9,"A":0.6,"I":-0.8},
{"b":"N","e":"CPz","t":450,"C":3.4,"A":0.9,"I":-0.7},
{"b":"N","e":"CPz","t":475,"C":3.1,"A":0.6,"I":-0.6},
{"b":"N","e":"CPz","t":500,"C":3,"A":0.5,"I":-0.5},
{"b":"N","e":"CPz","t":525,"C":2.6,"A":0.6,"I":-0.2},
{"b":"N","e":"CPz","t":550,"C":2.4,"A":0.4,"I":0},
{"b":"N","e":"CPz","t":575,"C":1.9,"A":0.3,"I":0.4},
{"b":"N","e":"CPz","t":600,"C":1.6,"A":0.4,"I":0.4},
{"b":"N","e":"CPz","t":625,"C":1.5,"A":0.5,"I":0.4},
{"b":"N","e":"CPz","t":650,"C":1.5,"A":0.4,"I":-0.1},
{"b":"N","e":"CPz","t":675,"C":1.1,"A":0.6,"I":0.1},
{"b":"N","e":"CPz","t":700,"C":0.9,"A":0.8,"I":0.4},
{"b":"N","e":"CPz","t":725,"C":0.8,"A":0.9,"I":0.3},
{"b":"N","e":"CPz","t":750,"C":0.9,"A":0.9,"I":-0.1},
{"b":"N","e":"CPz","t":775,"C":0.6,"A":0.8,"I":0.4},
{"b":"N","e":"CPz","t":800,"C":0.8,"A":0.6,"I":0.6},
{"b":"N","e":"Pz","t":-200,"C":1,"A":0.7,"I":0.2},
{"b":"N","e":"Pz","t":-175,"C":0.7,"A":0.6,"I":-0.5},
{"b":"N","e":"Pz","t":-150,"C":0,"A":0.4,"I":-0.2},
{"b":"N","e":"Pz","t":-125,"C":-0.5,"A":-0.1,"I":0.2},
{"b":"N","e":"Pz","t":-100,"C":-0.6,"A":-0.2,"I":-0.2},
{"b":"N","e":"Pz","t":-75,"C":-0.4,"A":-0.2,"I":-0.1},
{"b":"N","e":"Pz","t":-50,"C":-0.6,"A":-0.5,"I":-0.2},
{"b":"N","e":"Pz","t":-25,"C":-0.7,"A":-0.2,"I":-0.5},
{"b":"N","e":"Pz","t":0,"C":-0.6,"A":0,"I":-0.6},
{"b":"N","e":"Pz","t":25,"C":-0.6,"A":-0.5,"I":-0.6},
{"b":"N","e":"Pz","t":50,"C":-0.7,"A":-0.7,"I":-0.7},
{"b":"N","e":"Pz","t":75,"C":-1,"A":-1,"I":-1},
{"b":"N","e":"Pz","t":100,"C":-1.5,"A":-1.6,"I":-1.7},
{"b":"N","e":"Pz","t":125,"C":-2,"A":-1.9,"I":-2.1},
{"b":"N","e":"Pz","t":150,"C":-1,"A":-1.2,"I":-1.5},
{"b":"N","e":"Pz","t":175,"C":1.2,"A":0.7,"I":0.5},
{"b":"N","e":"Pz","t":200,"C":2.2,"A":1.5,"I":0.2},
{"b":"N","e":"Pz","t":225,"C":3,"A":1.9,"I":0.7},
{"b":"N","e":"Pz","t":250,"C":2.7,"A":1.7,"I":1.2},
{"b":"N","e":"Pz","t":275,"C":2,"A":1.2,"I":0.6},
{"b":"N","e":"Pz","t":300,"C":1.5,"A":0.5,"I":0},
{"b":"N","e":"Pz","t":325,"C":1.2,"A":0.2,"I":-0.6},
{"b":"N","e":"Pz","t":350,"C":1.2,"A":0,"I":-1.1},
{"b":"N","e":"Pz","t":375,"C":2,"A":1.2,"I":-0.7},
{"b":"N","e":"Pz","t":400,"C":3.1,"A":1.5,"I":-0.5},
{"b":"N","e":"Pz","t":425,"C":3.4,"A":1.6,"I":-0.2},
{"b":"N","e":"Pz","t":450,"C":3.5,"A":1.5,"I":0},
{"b":"N","e":"Pz","t":475,"C":3.2,"A":1.4,"I":-0.2},
{"b":"N","e":"Pz","t":500,"C":3.2,"A":1.1,"I":0.1},
{"b":"N","e":"Pz","t":525,"C":3.4,"A":1.2,"I":0.5},
{"b":"N","e":"Pz","t":550,"C":3.2,"A":1,"I":0.9},
{"b":"N","e":"Pz","t":575,"C":2.6,"A":1.2,"I":0.7},
{"b":"N","e":"Pz","t":600,"C":2.7,"A":1.1,"I":0.9},
{"b":"N","e":"Pz","t":625,"C":2.9,"A":1,"I":1},
{"b":"N","e":"Pz","t":650,"C":2.7,"A":1.1,"I":1.1},
{"b":"N","e":"Pz","t":675,"C":2.2,"A":1.2,"I":1},
{"b":"N","e":"Pz","t":700,"C":2.2,"A":1.5,"I":1.2},
{"b":"N","e":"Pz","t":725,"C":1.9,"A":1.6,"I":1.7},
{"b":"N","e":"Pz","t":750,"C":1.7,"A":1.7,"I":1.5},
{"b":"N","e":"Pz","t":775,"C":1.5,"A":1.5,"I":1.1},
{"b":"N","e":"Pz","t":800,"C":1.2,"A":1.4,"I":1},
{"b":"N","e":"POz","t":-200,"C":0.8,"A":0.4,"I":0.1},
{"b":"N","e":"POz","t":-175,"C":0.4,"A":0.3,"I":-0.3},
{"b":"N","e":"POz","t":-150,"C":-0.1,"A":-0.1,"I":-0.5},
{"b":"N","e":"POz","t":-125,"C":-0.3,"A":-0.3,"I":-0.1},
{"b":"N","e":"POz","t":-100,"C":-0.5,"A":0,"I":0.1},
{"b":"N","e":"POz","t":-75,"C":-0.5,"A":0.1,"I":0.1},
{"b":"N","e":"POz","t":-50,"C":-0.6,"A":-0.2,"I":-0.3},
{"b":"N","e":"POz","t":-25,"C":-0.5,"A":-0.3,"I":-0.5},
{"b":"N","e":"POz","t":0,"C":-0.6,"A":0.1,"I":-0.5},
{"b":"N","e":"POz","t":25,"C":-0.6,"A":-0.1,"I":-0.5},
{"b":"N","e":"POz","t":50,"C":-0.6,"A":-0.3,"I":-0.6},
{"b":"N","e":"POz","t":75,"C":-0.7,"A":-0.6,"I":-0.7},
{"b":"N","e":"POz","t":100,"C":-1,"A":-1.1,"I":-1.2},
{"b":"N","e":"POz","t":125,"C":-1.2,"A":-1.2,"I":-1.3},
{"b":"N","e":"POz","t":150,"C":-0.5,"A":-0.7,"I":-0.8},
{"b":"N","e":"POz","t":175,"C":0.6,"A":0.1,"I":-0.1},
{"b":"N","e":"POz","t":200,"C":1.6,"A":0.4,"I":-0.6},
{"b":"N","e":"POz","t":225,"C":2.3,"A":0.9,"I":0.1},
{"b":"N","e":"POz","t":250,"C":2.6,"A":1.1,"I":0.9},
{"b":"N","e":"POz","t":275,"C":2.3,"A":0.9,"I":0.8},
{"b":"N","e":"POz","t":300,"C":1.6,"A":0.4,"I":0.1},
{"b":"N","e":"POz","t":325,"C":1.1,"A":-0.3,"I":-0.2},
{"b":"N","e":"POz","t":350,"C":0.9,"A":-0.6,"I":-0.6},
{"b":"N","e":"POz","t":375,"C":1.3,"A":0.1,"I":-0.5},
{"b":"N","e":"POz","t":400,"C":1.8,"A":0.4,"I":-0.7},
{"b":"N","e":"POz","t":425,"C":2.4,"A":0.5,"I":-0.5},
{"b":"N","e":"POz","t":450,"C":2.1,"A":0.6,"I":-0.1},
{"b":"N","e":"POz","t":475,"C":2.4,"A":0.9,"I":-0.2},
{"b":"N","e":"POz","t":500,"C":2.6,"A":1.1,"I":0.1},
{"b":"N","e":"POz","t":525,"C":2.6,"A":0.9,"I":0.4},
{"b":"N","e":"POz","t":550,"C":2.4,"A":1.4,"I":0.9},
{"b":"N","e":"POz","t":575,"C":2.1,"A":1.3,"I":1.4},
{"b":"N","e":"POz","t":600,"C":2.3,"A":1.1,"I":1.5},
{"b":"N","e":"POz","t":625,"C":1.9,"A":0.9,"I":1.6},
{"b":"N","e":"POz","t":650,"C":2,"A":1.1,"I":1.6},
{"b":"N","e":"POz","t":675,"C":1.8,"A":1.5,"I":1.4},
{"b":"N","e":"POz","t":700,"C":1.9,"A":1.6,"I":1.6},
{"b":"N","e":"POz","t":725,"C":2,"A":1.4,"I":1.9},
{"b":"N","e":"POz","t":750,"C":1.6,"A":1.4,"I":1.4},
{"b":"N","e":"POz","t":775,"C":1.4,"A":1.3,"I":1.1},
{"b":"N","e":"POz","t":800,"C":1.1,"A":1.3,"I":1.3},
{"b":"B","e":"Fz","t":-200,"C":-0.2,"A":-0.1,"I":-0.4},
{"b":"B","e":"Fz","t":-175,"C":0.2,"A":-0.1,"I":0},
{"b":"B","e":"Fz","t":-150,"C":0,"A":0,"I":0.2},
{"b":"B","e":"Fz","t":-125,"C":-0.2,"A":0.1,"I":0.4},
{"b":"B","e":"Fz","t":-100,"C":-0.4,"A":0,"I":0.1},
{"b":"B","e":"Fz","t":-75,"C":-0.2,"A":-0.2,"I":0.2},
{"b":"B","e":"Fz","t":-50,"C":-0.1,"A":-0.6,"I":-0.1},
{"b":"B","e":"Fz","t":-25,"C":-0.5,"A":-1,"I":-0.6},
{"b":"B","e":"Fz","t":0,"C":-0.4,"A":-0.9,"I":-1.5},
{"b":"B","e":"Fz","t":25,"C":-1.2,"A":-1.2,"I":-1.6},
{"b":"B","e":"Fz","t":50,"C":-0.7,"A":-1.5,"I":-1.1},
{"b":"B","e":"Fz","t":75,"C":-1.5,"A":-1.6,"I":-1.5},
{"b":"B","e":"Fz","t":100,"C":-2.5,"A":-2.5,"I":-2.5},
{"b":"B","e":"Fz","t":125,"C":-3.7,"A":-3.6,"I":-3.5},
{"b":"B","e":"Fz","t":150,"C":-2.5,"A":-2.7,"I":-2.5},
{"b":"B","e":"Fz","t":175,"C":-0.5,"A":-0.7,"I":-0.7},
{"b":"B","e":"Fz","t":200,"C":0.1,"A":0.5,"I":0.1},
{"b":"B","e":"Fz","t":225,"C":-0.1,"A":0.7,"I":-0.1},
{"b":"B","e":"Fz","t":250,"C":-0.2,"A":0.1,"I":-0.4},
{"b":"B","e":"Fz","t":275,"C":-0.1,"A":-0.1,"I":-0.5},
{"b":"B","e":"Fz","t":300,"C":-0.4,"A":-0.2,"I":-0.9},
{"b":"B","e":"Fz","t":325,"C":-0.7,"A":-1,"I":-1.2},
{"b":"B","e":"Fz","t":350,"C":-0.2,"A":-1.5,"I":-1.1},
{"b":"B","e":"Fz","t":375,"C":0,"A":-1.7,"I":-1.5},
{"b":"B","e":"Fz","t":400,"C":0.5,"A":-1.4,"I":-1.2},
{"b":"B","e":"Fz","t":425,"C":0.6,"A":-0.7,"I":-0.6},
{"b":"B","e":"Fz","t":450,"C":0.7,"A":-0.5,"I":-0.4},
{"b":"B","e":"Fz","t":475,"C":1,"A":-0.5,"I":-0.2},
{"b":"B","e":"Fz","t":500,"C":0.7,"A":-0.4,"I":-0.5},
{"b":"B","e":"Fz","t":525,"C":0.5,"A":-0.2,"I":-0.2},
{"b":"B","e":"Fz","t":550,"C":0.1,"A":-0.7,"I":-0.1},
{"b":"B","e":"Fz","t":575,"C":0.2,"A":-1.5,"I":-0.2},
{"b":"B","e":"Fz","t":600,"C":0.5,"A":-1,"I":-0.5},
{"b":"B","e":"Fz","t":625,"C":0.7,"A":-1.1,"I":-0.4},
{"b":"B","e":"Fz","t":650,"C":0.2,"A":-0.9,"I":-0.2},
{"b":"B","e":"Fz","t":675,"C":-0.1,"A":-0.4,"I":-0.1},
{"b":"B","e":"Fz","t":700,"C":0,"A":-0.2,"I":-0.1},
{"b":"B","e":"Fz","t":725,"C":0.2,"A":0.1,"I":-1},
{"b":"B","e":"Fz","t":750,"C":0.4,"A":-0.2,"I":-0.4},
{"b":"B","e":"Fz","t":775,"C":0.2,"A":-0.4,"I":-0.6},
{"b":"B","e":"Fz","t":800,"C":0.1,"A":-0.6,"I":-0.5},
{"b":"B","e":"FCz","t":-200,"C":-0.1,"A":0.3,"I":-0.3},
{"b":"B","e":"FCz","t":-175,"C":0.3,"A":0.1,"I":0},
{"b":"B","e":"FCz","t":-150,"C":-0.3,"A":0.4,"I":0.1},
{"b":"B","e":"FCz","t":-125,"C":-0.6,"A":0.3,"I":0},
{"b":"B","e":"FCz","t":-100,"C":0.1,"A":0.1,"I":0.3},
{"b":"B","e":"FCz","t":-75,"C":0,"A":-0.1,"I":0.1},
{"b":"B","e":"FCz","t":-50,"C":0.3,"A":-0.6,"I":-0.3},
{"b":"B","e":"FCz","t":-25,"C":-0.2,"A":-0.8,"I":-1.2},
{"b":"B","e":"FCz","t":0,"C":-0.6,"A":-1,"I":-2.1},
{"b":"B","e":"FCz","t":25,"C":-1.6,"A":-1.3,"I":-1.7},
{"b":"B","e":"FCz","t":50,"C":-1.2,"A":-1.1,"I":-1.3},
{"b":"B","e":"FCz","t":75,"C":-1.2,"A":-1.3,"I":-1.1},
{"b":"B","e":"FCz","t":100,"C":-2.6,"A":-2.8,"I":-2.6},
{"b":"B","e":"FCz","t":125,"C":-4.3,"A":-4.6,"I":-4.2},
{"b":"B","e":"FCz","t":150,"C":-3.3,"A":-3.6,"I":-3.1},
{"b":"B","e":"FCz","t":175,"C":-0.8,"A":-1.1,"I":-1.1},
{"b":"B","e":"FCz","t":200,"C":0.6,"A":1.1,"I":0.4},
{"b":"B","e":"FCz","t":225,"C":0.4,"A":0.8,"I":0.6},
{"b":"B","e":"FCz","t":250,"C":0.1,"A":-0.1,"I":-0.2},
{"b":"B","e":"FCz","t":275,"C":0,"A":-0.3,"I":-0.3},
{"b":"B","e":"FCz","t":300,"C":-0.2,"A":-0.6,"I":-0.7},
{"b":"B","e":"FCz","t":325,"C":-0.5,"A":-1.1,"I":-1.1},
{"b":"B","e":"FCz","t":350,"C":-0.3,"A":-1.8,"I":-0.8},
{"b":"B","e":"FCz","t":375,"C":0.1,"A":-1,"I":-0.3},
{"b":"B","e":"FCz","t":400,"C":0.5,"A":-0.3,"I":0.1},
{"b":"B","e":"FCz","t":425,"C":0.6,"A":-0.6,"I":0},
{"b":"B","e":"FCz","t":450,"C":1.1,"A":-0.8,"I":-0.1},
{"b":"B","e":"FCz","t":475,"C":1.6,"A":-0.3,"I":0.1},
{"b":"B","e":"FCz","t":500,"C":1,"A":-0.6,"I":0},
{"b":"B","e":"FCz","t":525,"C":0.9,"A":-0.8,"I":-0.2},
{"b":"B","e":"FCz","t":550,"C":0.6,"A":-0.6,"I":0},
{"b":"B","e":"FCz","t":575,"C":0.9,"A":-0.1,"I":0.1},
{"b":"B","e":"FCz","t":600,"C":1.1,"A":-0.5,"I":0.3},
{"b":"B","e":"FCz","t":625,"C":0.8,"A":-0.3,"I":0.4},
{"b":"B","e":"FCz","t":650,"C":0.6,"A":0,"I":0.3},
{"b":"B","e":"FCz","t":675,"C":0.3,"A":0.1,"I":0.4},
{"b":"B","e":"FCz","t":700,"C":0.5,"A":0.4,"I":0.3},
{"b":"B","e":"FCz","t":725,"C":0.9,"A":0.6,"I":-0.3},
{"b":"B","e":"FCz","t":750,"C":0.6,"A":0.3,"I":0},
{"b":"B","e":"FCz","t":775,"C":0.3,"A":0,"I":0.1},
{"b":"B","e":"FCz","t":800,"C":0,"A":-0.6,"I":0.1},
{"b":"B","e":"Cz","t":-200,"C":0,"A":0.2,"I":-0.4},
{"b":"B","e":"Cz","t":-175,"C":0.4,"A":0.1,"I":-0.1},
{"b":"B","e":"Cz","t":-150,"C":-0.1,"A":0.5,"I":0.2},
{"b":"B","e":"Cz","t":-125,"C":0,"A":0.2,"I":0.4},
{"b":"B","e":"Cz","t":-100,"C":-0.1,"A":0.2,"I":0.2},
{"b":"B","e":"Cz","t":-75,"C":-0.2,"A":0,"I":0},
{"b":"B","e":"Cz","t":-50,"C":-0.1,"A":-0.5,"I":-0.5},
{"b":"B","e":"Cz","t":-25,"C":-0.4,"A":-0.7,"I":-0.7},
{"b":"B","e":"Cz","t":0,"C":-1,"A":-0.7,"I":-2},
{"b":"B","e":"Cz","t":25,"C":-1.2,"A":-1.2,"I":-1.7},
{"b":"B","e":"Cz","t":50,"C":-0.7,"A":-1.1,"I":-1.4},
{"b":"B","e":"Cz","t":75,"C":-1.1,"A":-1.2,"I":-1.2},
{"b":"B","e":"Cz","t":100,"C":-2.2,"A":-2.5,"I":-2.5},
{"b":"B","e":"Cz","t":125,"C":-3.7,"A":-4,"I":-4},
{"b":"B","e":"Cz","t":150,"C":-3,"A":-3.1,"I":-3.2},
{"b":"B","e":"Cz","t":175,"C":-1,"A":-0.7,"I":-1.2},
{"b":"B","e":"Cz","t":200,"C":-0.1,"A":0.5,"I":0},
{"b":"B","e":"Cz","t":225,"C":0,"A":0,"I":-0.1},
{"b":"B","e":"Cz","t":250,"C":-0.5,"A":-0.5,"I":-0.6},
{"b":"B","e":"Cz","t":275,"C":-0.6,"A":-0.6,"I":-0.7},
{"b":"B","e":"Cz","t":300,"C":-0.7,"A":-1,"I":-1.2},
{"b":"B","e":"Cz","t":325,"C":-1,"A":-1.2,"I":-1.7},
{"b":"B","e":"Cz","t":350,"C":-0.7,"A":-1.7,"I":-1.4},
{"b":"B","e":"Cz","t":375,"C":-0.2,"A":-1.5,"I":-0.7},
{"b":"B","e":"Cz","t":400,"C":0,"A":-0.7,"I":-0.5},
{"b":"B","e":"Cz","t":425,"C":0.2,"A":-0.6,"I":-0.2},
{"b":"B","e":"Cz","t":450,"C":0.5,"A":-1,"I":-0.4},
{"b":"B","e":"Cz","t":475,"C":0.7,"A":-0.7,"I":-0.2},
{"b":"B","e":"Cz","t":500,"C":0.5,"A":-0.2,"I":-0.1},
{"b":"B","e":"Cz","t":525,"C":0.4,"A":-0.5,"I":0},
{"b":"B","e":"Cz","t":550,"C":0.5,"A":-0.7,"I":-0.1},
{"b":"B","e":"Cz","t":575,"C":0.2,"A":-0.5,"I":0.1},
{"b":"B","e":"Cz","t":600,"C":0,"A":-0.4,"I":0},
{"b":"B","e":"Cz","t":625,"C":0,"A":0,"I":0.2},
{"b":"B","e":"Cz","t":650,"C":-0.1,"A":0.2,"I":0.4},
{"b":"B","e":"Cz","t":675,"C":0.2,"A":0.5,"I":0.5},
{"b":"B","e":"Cz","t":700,"C":0.5,"A":0.7,"I":0},
{"b":"B","e":"Cz","t":725,"C":0.4,"A":1,"I":-0.5},
{"b":"B","e":"Cz","t":750,"C":0.6,"A":0.7,"I":0.1},
{"b":"B","e":"Cz","t":775,"C":0.5,"A":0.5,"I":0.4},
{"b":"B","e":"Cz","t":800,"C":0.2,"A":0,"I":-0.5},
{"b":"B","e":"CPz","t":-200,"C":-0.2,"A":0.2,"I":-0.5},
{"b":"B","e":"CPz","t":-175,"C":-0.6,"A":0.4,"I":0},
{"b":"B","e":"CPz","t":-150,"C":-0.5,"A":0.2,"I":0.2},
{"b":"B","e":"CPz","t":-125,"C":-0.2,"A":0,"I":0.2},
{"b":"B","e":"CPz","t":-100,"C":-0.7,"A":-0.5,"I":0},
{"b":"B","e":"CPz","t":-75,"C":-0.5,"A":-0.2,"I":-0.1},
{"b":"B","e":"CPz","t":-50,"C":-1,"A":-0.5,"I":-0.5},
{"b":"B","e":"CPz","t":-25,"C":0,"A":-0.6,"I":-1},
{"b":"B","e":"CPz","t":0,"C":-0.7,"A":-1,"I":-1.6},
{"b":"B","e":"CPz","t":25,"C":-1.5,"A":-1.7,"I":-2},
{"b":"B","e":"CPz","t":50,"C":-1.5,"A":-1.6,"I":-1.5},
{"b":"B","e":"CPz","t":75,"C":-1,"A":-1,"I":-1},
{"b":"B","e":"CPz","t":100,"C":-2,"A":-1.7,"I":-1.7},
{"b":"B","e":"CPz","t":125,"C":-3.7,"A":-3.2,"I":-3},
{"b":"B","e":"CPz","t":150,"C":-2.5,"A":-2.2,"I":-2},
{"b":"B","e":"CPz","t":175,"C":-1,"A":-1.2,"I":-1},
{"b":"B","e":"CPz","t":200,"C":-0.2,"A":0,"I":0},
{"b":"B","e":"CPz","t":225,"C":0,"A":-0.5,"I":-0.5},
{"b":"B","e":"CPz","t":250,"C":-0.2,"A":-0.2,"I":-0.2},
{"b":"B","e":"CPz","t":275,"C":-0.5,"A":-0.7,"I":-0.6},
{"b":"B","e":"CPz","t":300,"C":0,"A":-0.9,"I":-1},
{"b":"B","e":"CPz","t":325,"C":0.2,"A":-1,"I":-1.7},
{"b":"B","e":"CPz","t":350,"C":-0.5,"A":-1.5,"I":-1.2},
{"b":"B","e":"CPz","t":375,"C":-0.2,"A":-1.2,"I":-0.5},
{"b":"B","e":"CPz","t":400,"C":0.2,"A":-1,"I":0},
{"b":"B","e":"CPz","t":425,"C":0.6,"A":-0.5,"I":0.2},
{"b":"B","e":"CPz","t":450,"C":0.7,"A":-0.2,"I":0},
{"b":"B","e":"CPz","t":475,"C":0.9,"A":0,"I":0.2},
{"b":"B","e":"CPz","t":500,"C":1,"A":0.1,"I":0},
{"b":"B","e":"CPz","t":525,"C":1.2,"A":0.2,"I":0.2},
{"b":"B","e":"CPz","t":550,"C":0.5,"A":0,"I":0},
{"b":"B","e":"CPz","t":575,"C":0.6,"A":0.5,"I":0.5},
{"b":"B","e":"CPz","t":600,"C":1,"A":0.9,"I":0.7},
{"b":"B","e":"CPz","t":625,"C":1.1,"A":1.2,"I":1.5},
{"b":"B","e":"CPz","t":650,"C":0.9,"A":1.5,"I":1},
{"b":"B","e":"CPz","t":675,"C":1,"A":1.6,"I":0.2},
{"b":"B","e":"CPz","t":700,"C":1.5,"A":1.7,"I":-0.5},
{"b":"B","e":"CPz","t":725,"C":1.7,"A":2,"I":0.5},
{"b":"B","e":"CPz","t":750,"C":1.2,"A":1.9,"I":1},
{"b":"B","e":"CPz","t":775,"C":1.5,"A":1.6,"I":0.7},
{"b":"B","e":"CPz","t":800,"C":1.2,"A":1,"I":0},
{"b":"B","e":"Pz","t":-200,"C":-0.3,"A":0,"I":-0.4},
{"b":"B","e":"Pz","t":-175,"C":0.3,"A":0.1,"I":0},
{"b":"B","e":"Pz","t":-150,"C":-0.4,"A":0.2,"I":0.2},
{"b":"B","e":"Pz","t":-125,"C":0.3,"A":-0.1,"I":0.1},
{"b":"B","e":"Pz","t":-100,"C":1.1,"A":0,"I":-0.1},
{"b":"B","e":"Pz","t":-75,"C":0.1,"A":-0.4,"I":-0.4},
{"b":"B","e":"Pz","t":-50,"C":-1.4,"A":-0.1,"I":-0.9},
{"b":"B","e":"Pz","t":-25,"C":0.8,"A":-0.5,"I":-1.4},
{"b":"B","e":"Pz","t":0,"C":-0.4,"A":-0.9,"I":-2.4},
{"b":"B","e":"Pz","t":25,"C":-1.4,"A":-1.1,"I":-1.9},
{"b":"B","e":"Pz","t":50,"C":-0.9,"A":-0.9,"I":-0.9},
{"b":"B","e":"Pz","t":75,"C":-0.9,"A":-0.6,"I":-0.6},
{"b":"B","e":"Pz","t":100,"C":-1.9,"A":-1.4,"I":-1.4},
{"b":"B","e":"Pz","t":125,"C":-3.3,"A":-2.4,"I":-2.1},
{"b":"B","e":"Pz","t":150,"C":-1.9,"A":-1.6,"I":-1.6},
{"b":"B","e":"Pz","t":175,"C":-0.6,"A":-1.4,"I":-0.9},
{"b":"B","e":"Pz","t":200,"C":-0.4,"A":-0.6,"I":-0.4},
{"b":"B","e":"Pz","t":225,"C":-0.1,"A":-1.1,"I":0},
{"b":"B","e":"Pz","t":250,"C":-0.4,"A":-0.4,"I":-0.1},
{"b":"B","e":"Pz","t":275,"C":0,"A":-0.6,"I":-0.4},
{"b":"B","e":"Pz","t":300,"C":-0.4,"A":-0.9,"I":-0.9},
{"b":"B","e":"Pz","t":325,"C":-0.4,"A":-1,"I":-1.4},
{"b":"B","e":"Pz","t":350,"C":-0.1,"A":-1.1,"I":-0.6},
{"b":"B","e":"Pz","t":375,"C":0.1,"A":-1,"I":-0.4},
{"b":"B","e":"Pz","t":400,"C":0.8,"A":-0.9,"I":0},
{"b":"B","e":"Pz","t":425,"C":1.6,"A":-0.8,"I":0.3},
{"b":"B","e":"Pz","t":450,"C":1.8,"A":-0.4,"I":0.3},
{"b":"B","e":"Pz","t":475,"C":1.6,"A":0,"I":0.3},
{"b":"B","e":"Pz","t":500,"C":2.1,"A":0.2,"I":0.1},
{"b":"B","e":"Pz","t":525,"C":2,"A":0.3,"I":0},
{"b":"B","e":"Pz","t":550,"C":1.6,"A":0.6,"I":0.3},
{"b":"B","e":"Pz","t":575,"C":1.8,"A":0.8,"I":1.1},
{"b":"B","e":"Pz","t":600,"C":2.1,"A":1.3,"I":1.8},
{"b":"B","e":"Pz","t":625,"C":2,"A":1.6,"I":2.1},
{"b":"B","e":"Pz","t":650,"C":2.6,"A":2,"I":2.3},
{"b":"B","e":"Pz","t":675,"C":2.8,"A":2.1,"I":1.8},
{"b":"B","e":"Pz","t":700,"C":2.8,"A":2.3,"I":1.3},
{"b":"B","e":"Pz","t":725,"C":2.6,"A":2.6,"I":1.3},
{"b":"B","e":"Pz","t":750,"C":2.3,"A":2.3,"I":1.8},
{"b":"B","e":"Pz","t":775,"C":2.1,"A":1.8,"I":1.6},
{"b":"B","e":"Pz","t":800,"C":1.6,"A":0.8,"I":0.1},
{"b":"B","e":"POz","t":-200,"C":-0.5,"A":0,"I":-0.7},
{"b":"B","e":"POz","t":-175,"C":-0.2,"A":0.2,"I":-0.2},
{"b":"B","e":"POz","t":-150,"C":0.2,"A":0.1,"I":0.2},
{"b":"B","e":"POz","t":-125,"C":-0.2,"A":0,"I":0.4},
{"b":"B","e":"POz","t":-100,"C":0.2,"A":-0.1,"I":0.5},
{"b":"B","e":"POz","t":-75,"C":1,"A":-0.2,"I":0},
{"b":"B","e":"POz","t":-50,"C":-1.2,"A":-0.4,"I":-0.1},
{"b":"B","e":"POz","t":-25,"C":0.2,"A":-0.5,"I":-0.5},
{"b":"B","e":"POz","t":0,"C":0,"A":0,"I":-2},
{"b":"B","e":"POz","t":25,"C":-0.5,"A":-1.1,"I":-1.6},
{"b":"B","e":"POz","t":50,"C":-0.7,"A":-0.7,"I":-0.7},
{"b":"B","e":"POz","t":75,"C":-0.5,"A":-0.5,"I":-0.5},
{"b":"B","e":"POz","t":100,"C":-1,"A":-1,"I":-1.2},
{"b":"B","e":"POz","t":125,"C":-2,"A":-1.7,"I":-1.5},
{"b":"B","e":"POz","t":150,"C":-1,"A":-1,"I":-1.2},
{"b":"B","e":"POz","t":175,"C":-0.2,"A":-1.5,"I":-0.7},
{"b":"B","e":"POz","t":200,"C":0,"A":-0.7,"I":-1},
{"b":"B","e":"POz","t":225,"C":-0.2,"A":-1.2,"I":-0.5},
{"b":"B","e":"POz","t":250,"C":0,"A":-0.7,"I":-0.7},
{"b":"B","e":"POz","t":275,"C":0.2,"A":-1,"I":-1},
{"b":"B","e":"POz","t":300,"C":0,"A":-1.1,"I":-1.2},
{"b":"B","e":"POz","t":325,"C":-0.7,"A":-1.2,"I":-1.7},
{"b":"B","e":"POz","t":350,"C":-1,"A":-1.4,"I":-1.2},
{"b":"B","e":"POz","t":375,"C":-0.5,"A":-1.6,"I":-1.1},
{"b":"B","e":"POz","t":400,"C":0.2,"A":-1.2,"I":-0.5},
{"b":"B","e":"POz","t":425,"C":1,"A":-0.7,"I":0},
{"b":"B","e":"POz","t":450,"C":1.2,"A":-0.5,"I":0.2},
{"b":"B","e":"POz","t":475,"C":1.7,"A":-0.4,"I":0.1},
{"b":"B","e":"POz","t":500,"C":2,"A":-0.6,"I":-0.2},
{"b":"B","e":"POz","t":525,"C":1.7,"A":0,"I":0},
{"b":"B","e":"POz","t":550,"C":1.6,"A":0.5,"I":0.2},
{"b":"B","e":"POz","t":575,"C":1.2,"A":0.7,"I":0.5},
{"b":"B","e":"POz","t":600,"C":1,"A":1.2,"I":0},
{"b":"B","e":"POz","t":625,"C":1.5,"A":1.5,"I":0.7},
{"b":"B","e":"POz","t":650,"C":2,"A":1.7,"I":1},
{"b":"B","e":"POz","t":675,"C":2.5,"A":2,"I":0.5},
{"b":"B","e":"POz","t":700,"C":2.2,"A":2.1,"I":0.2},
{"b":"B","e":"POz","t":725,"C":2.2,"A":2,"I":0.5},
{"b":"B","e":"POz","t":750,"C":2,"A":1.5,"I":2},
{"b":"B","e":"POz","t":775,"C":1.7,"A":1,"I":1},
{"b":"B","e":"POz","t":800,"C":1,"A":0.5,"I":0}
],
"legend": [
{"n": "Congruent"},
{"n": "Ambiguous"},
{"n": "Incongruent"}
]},
"spacing": 30,
"vconcat": [
  {
    "hconcat": [
      {
        "data": {"values": []},
        "width": 29,
        "height": 66,
        "mark": {"type": "point"},
        "encoding": {}
      },
      {
        "data": {"name": "legend"},
        "width": 34,
        "height": 66,
        "mark": {"type": "rect", "stroke": "#333333", "strokeWidth": 1.2},
        "encoding": {
          "y": {"field": "n", "type": "nominal", "sort": ["Congruent", "Ambiguous", "Incongruent"], "scale": {"paddingInner": 0.22, "paddingOuter": 0.06},
                "axis": {"orient": "right", "title": null, "ticks": false, "domain": false, "labelFont": "Liberation Serif", "labelFontSize": 14, "labelColor": "black", "labelPadding": 4}},
          "fill": {"field": "n", "type": "nominal", "scale": {"domain": ["Congruent", "Ambiguous", "Incongruent"], "range": ["#1c2b6e", "#e2202a", "#808080"]}, "legend": null}
        }
      }
    ],
    "spacing": 15
  },
  {
    "data": {"name": "erp"},
    "transform": [{"fold": ["C", "A", "I"], "as": ["s", "v"]}],
    "facet": {
      "row": {"field": "e", "type": "nominal", "sort": ["Fz", "FCz", "Cz", "CPz", "Pz", "POz"], "header": {"labels": false, "title": null}},
      "column": {"field": "b", "type": "nominal", "sort": ["S", "N", "B"], "header": {"title": null, "orient": "bottom", "labelOrient": "bottom", "labelExpr": "datum.value == 'S' ? 'Silence background' : datum.value == 'N' ? 'Sationary Noise background' : 'Babble Noise background'", "labelFont": "Liberation Serif", "labelFontSize": 23, "labelColor": "black", "labelPadding": 37}}
    },
    "spacing": {"row": 16, "column": 57},
    "bounds": "flush",
    "resolve": {"axis": {"x": "independent", "y": "independent"}},
    "spec": {
      "width": 308,
      "height": 72,
      "layer": [
        {
          "mark": {"type": "line", "strokeWidth": 1.2},
          "encoding": {
            "x": {"field": "t", "type": "quantitative", "scale": {"domain": [-200, 800], "nice": false, "zero": false},
                  "axis": {"title": null, "orient": "bottom", "offset": -36, "values": [-100, 200, 400, 600, 800], "labelExpr": "replace(datum.label, '−', '-')", "ticks": false, "grid": false, "domain": true, "domainColor": "black", "domainWidth": 1, "labelFont": "Liberation Sans", "labelFontSize": 14, "labelColor": "black", "labelPadding": 9, "labelFlush": false, "labelOverlap": false}},
            "y": {"field": "v", "type": "quantitative", "scale": {"domain": [-6, 6], "reverse": true, "nice": false},
                  "axis": {"title": null, "orient": "left", "offset": -61.6, "values": [-6, 6], "labelExpr": "replace(datum.label, '−', '-')", "ticks": false, "grid": false, "domain": true, "domainColor": "black", "domainWidth": 1, "labelFont": "Liberation Sans", "labelFontSize": 14, "labelColor": "black", "labelPadding": 4}},
            "stroke": {"field": "s", "type": "nominal", "scale": {"domain": ["C", "A", "I"], "range": ["#4a58c4", "#ee2b2b", "#1e1e1e"]}, "legend": null}
          }
        },
        {
          "transform": [{"filter": "datum.t == 0 && datum.s == 'C'"}],
          "mark": {"type": "text", "align": "left", "baseline": "middle", "dx": 3, "fontWeight": "bold", "fontSize": 13, "font": "Liberation Sans", "color": "black"},
          "encoding": {"x": {"datum": 0}, "y": {"datum": -6}, "text": {"field": "e", "type": "nominal"}}
        }
      ]
    }
  }
]
}
